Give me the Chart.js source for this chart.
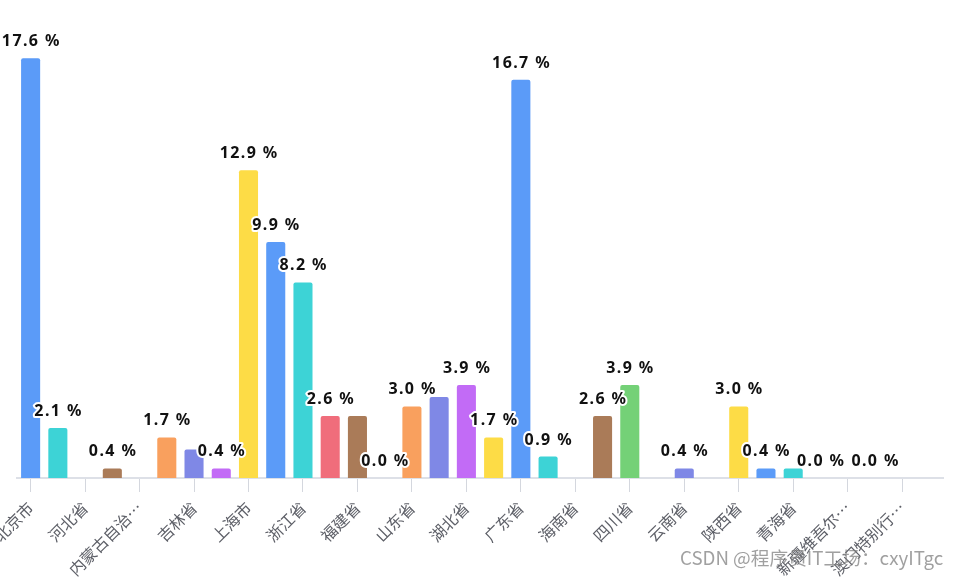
<!DOCTYPE html>
<html lang="zh">
<head>
  <meta charset="UTF-8" />
  <title>省份占比</title>
  <script src="https://cdn.jsdelivr.net/npm/chart.js"></script>
  <style>
    html, body { margin: 0; padding: 0; background: #fff; }
    #wrap { position: relative; width: 958px; height: 578px; overflow: hidden; }
    #mark { position: absolute; left: 680px; top: 543px; font: 18.7px "Noto Sans CJK SC", sans-serif; color: rgba(120,120,120,0.7); white-space: nowrap; }
  </style>
</head>
<body>
  <div id="wrap">
    <canvas id="c" width="958" height="578"></canvas>
    <div id="mark">CSDN @程序员IT工场：cxyITgc</div>
  </div>

  <script>
    const provinces = ['北京市','天津市','河北省','山西省','内蒙古自治区','辽宁省','吉林省','黑龙江省',
      '上海市','江苏省','浙江省','安徽省','福建省','江西省','山东省','河南省','湖北省','湖南省',
      '广东省','广西壮族自治区','海南省','重庆市','四川省','贵州省','云南省','西藏自治区','陕西省',
      '甘肃省','青海省','宁夏回族自治区','新疆维吾尔自治区','香港特别行政区','澳门特别行政区','台湾省'];
    const shares = [17.6, 2.1, 0.0, 0.4, 0.0, 1.7, 1.2, 0.4,
      12.9, 9.9, 8.2, 2.6, 2.6, 0.0, 3.0, 3.4, 3.9, 1.7,
      16.7, 0.9, 0.0, 2.6, 3.9, 0.0, 0.4, 0.0, 3.0,
      0.4, 0.4, 0.0, 0.0, 0.0, 0.0, null];
    const palette = ['#5B9BF8','#3DD3D6','#F06D7B','#AA7B58','#74D177','#F9A05E','#7F88E6','#C26BF6','#FDDC46'];

    // value labels above bars, overlapping ones hidden (bigger values win)
    const barLabels = {
      id: 'barLabels',
      afterDatasetsDraw(chart) {
        const ctx = chart.ctx;
        const meta = chart.getDatasetMeta(0);
        ctx.save();
        ctx.font = 'bold 16px "Noto Sans", sans-serif';
        ctx.letterSpacing = '1.4px';
        const items = [];
        meta.data.forEach((el, i) => {
          const v = shares[i];
          if (v === null || v === undefined) return;
          const text = v.toFixed(1) + ' %';
          const w = ctx.measureText(text).width;
          const by = el.y - 12;
          items.push({ i, v, text, x: el.x, by, box: [el.x - w / 2 - 2, by - 17, el.x + w / 2 + 2, by + 5] });
        });
        items.sort((a, b) => b.v - a.v || a.i - b.i);
        const placed = [];
        for (const it of items) {
          const hit = placed.some(p => !(it.box[2] <= p.box[0] || it.box[0] >= p.box[2] || it.box[3] <= p.box[1] || it.box[1] >= p.box[3]));
          if (!hit) placed.push(it);
        }
        ctx.textAlign = 'center';
        ctx.textBaseline = 'alphabetic';
        ctx.lineJoin = 'round';
        for (const it of placed) {
          ctx.lineWidth = 4;
          ctx.strokeStyle = '#fff';
          ctx.strokeText(it.text, it.x + 0.7, it.by);
          ctx.fillStyle = '#111';
          ctx.fillText(it.text, it.x + 0.7, it.by);
        }
        ctx.restore();
      }
    };

    new Chart(document.getElementById('c'), {
      type: 'bar',
      data: {
        labels: provinces,
        datasets: [{
          data: shares,
          backgroundColor: shares.map((v, i) => palette[i % palette.length]),
          barPercentage: 0.7,
          categoryPercentage: 1,
          borderRadius: 2
        }]
      },
      options: {
        responsive: false,
        animation: false,
        layout: { padding: { left: 17, right: 15, top: 1, bottom: 0 } },
        plugins: { legend: { display: false }, tooltip: { enabled: false } },
        scales: {
          y: { display: false, min: 0, max: 20 },
          x: {
            grid: {
              offset: false,
              drawOnChartArea: false,
              tickLength: 14,
              tickColor: ctx => ctx.index % 2 === 0 ? '#D4D7DE' : 'rgba(0,0,0,0)',
              tickWidth: 1
            },
            border: { color: '#DDE0E7', width: 2 },
            ticks: {
              autoSkip: false,
              minRotation: 45,
              maxRotation: 45,
              padding: 6,
              color: '#5E6068',
              font: { family: '"Noto Sans CJK SC", sans-serif', size: 16 },
              callback: function (val, i) {
                if (i % 2 !== 0) return '';
                const name = provinces[i];
                return name.length > 5 ? name.slice(0, 5) + '…' : name;
              }
            },
            afterFit(scale) {
              scale.height = 100;
              scale.paddingLeft = 0;
              scale.paddingRight = 0;
            }
          }
        }
      },
      plugins: [barLabels]
    });
  </script>
</body>
</html>
